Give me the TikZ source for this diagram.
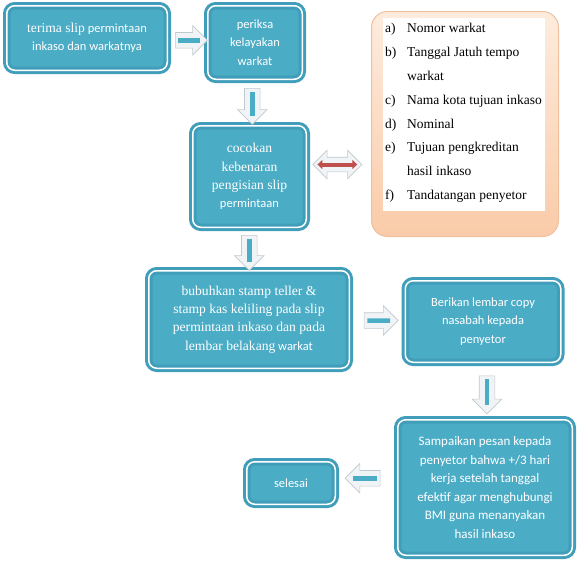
\documentclass[tikz,border=0pt]{standalone}
\usepackage{fontspec}
\setmainfont{Liberation Serif}
\setsansfont{Carlito}
\usetikzlibrary{shapes.arrows,calc,arrows.meta}
\definecolor{boxfill}{RGB}{75,172,198}
\definecolor{boxedge}{RGB}{64,158,186}
\definecolor{arrowfill}{RGB}{241,244,246}
\definecolor{arrowedge}{RGB}{192,201,206}
\definecolor{peachtop}{RGB}{253,236,222}
\definecolor{peachbot}{RGB}{250,203,168}
\definecolor{peachedge}{RGB}{240,192,156}
\definecolor{redbar}{RGB}{192,80,77}
\newcommand{\sr}[1]{{\rmfamily\fontsize{13.6}{18.3}\selectfont #1}}

\tikzset{
  stepbox/.style={draw=boxedge, line width=3pt, double=white, double distance=1.5pt,
    fill=boxfill, rounded corners=8pt, align=center, text=white, inner sep=2pt,
    font=\sffamily\fontsize{12.5}{18.3}\selectfont},
  blockarrow/.style={single arrow, single arrow head extend=7pt, draw=arrowedge,
    fill=arrowfill, line width=0.6pt, inner sep=0pt, text height=15pt, text depth=0pt,
    minimum height=#1},
  dblarrow/.style={double arrow, double arrow head extend=7pt, draw=arrowedge,
    fill=arrowfill, line width=0.6pt, inner sep=0pt, text height=14pt, text depth=0pt,
    minimum height=#1},
  arrowbar/.style={draw=boxfill, line width=4.5pt},
  notebox/.style={draw=peachedge, line width=1pt, rounded corners=16pt,
    top color=peachtop, bottom color=peachbot},
  listtext/.style={inner sep=0pt, font=\rmfamily\fontsize{13.5}{23.8}\selectfont}
}

\begin{document}
\begin{tikzpicture}[x=1pt,y=-1pt]
                    \useasboundingbox (0,0) rectangle (577,563);

                    \node[stepbox, minimum width=160.5, minimum height=64.5] (b1) at (87,38)
                        {\sr{terima slip} permintaan\\inkaso dan warkatnya};
                    \node[stepbox, minimum width=94.5, minimum height=73.5] (b2) at (255,42.5)
                        {periksa\\kelayakan\\warkat};
                    \node[stepbox, minimum width=113.5, minimum height=101.5] (b3) at (249.5,176.5)
                        {\sr{cocokan}\\\sr{kebenaran}\\\sr{pengisian slip}\\permintaan};
                    \node[stepbox, minimum width=200.5, minimum height=97.5] (b4) at (249,319.5)
                        {\sr{bubuhkan stamp teller \&}\\\sr{stamp kas keliling pada slip}\\
                         \sr{permintaan inkaso dan pada}\\\sr{lembar belakang} warkat};
                    \node[stepbox, minimum width=155.5, minimum height=81.5] (b5) at (483,321.5)
                        {Berikan lembar copy\\nasabah kepada\\penyetor};
                    \node[stepbox, minimum width=174.5, minimum height=135.5,
                        font=\sffamily\fontsize{13}{18.6}\selectfont] (b6) at (485,487.5)
                        {Sampaikan pesan kepada\\penyetor bahwa +/3 hari\\kerja setelah tanggal\\
                         efektif agar menghubungi\\BMI guna menanyakan\\hasil inkaso};
                    \node[stepbox, minimum width=88.5, minimum height=42.5] (b7) at (291,483)
                        {selesai};

                    \node[notebox, minimum width=187, minimum height=225] (note) at (465,124) {};
                    \node[fill=white, inner sep=0pt, minimum width=162, minimum height=193] (pad) at (464,114.5) {};
                    \node[listtext, anchor=west] (items) at (385,111.5) {%
                        \rmfamily
                        \begin{tabular}{@{}p{22pt}@{}l@{}}
                        a) & Nomor warkat\\
                        b) & Tanggal Jatuh tempo\\
                           & warkat\\
                        c) & Nama kota tujuan inkaso\\
                        d) & Nominal\\
                        e) & Tujuan pengkreditan\\
                           & hasil inkaso\\
                        f) & Tandatangan penyetor
                        \end{tabular}};

                    \node[blockarrow=32] (a1) at ($(b1.east)!0.5!(b2.west)$) {};
                    \node[blockarrow=36, rotate=-90] (a2) at ($(b2.south)!0.5!(b3.north)$) {};
                    \node[blockarrow=35, rotate=-90] (a3) at ($(b3.south)!0.5!(b4.north)$) {};
                    \node[blockarrow=34] (a4) at ($(b4.east)!0.5!(b5.west)$) {};
                    \node[blockarrow=38, rotate=-90] (a5) at ($(b5.south)!0.5!(b6.north)+(3,0)$) {};
                    \node[blockarrow=35, rotate=180] (a6) at ($(b6.west)!0.5!(b7.east)+(0,-7)$) {};
                    \node[dblarrow=49] (dbl) at ($(b3.east)!0.5!(b3.east -| note.west)+(-2,-12)$) {};

                    \foreach \a in {a1,a2,a3,a4,a5,a6}
                    {\draw[arrowbar] ($(\a.tail)!0.1!(\a.tip)$) -- ($(\a.tail)!0.76!(\a.tip)$);}

                    \draw[redbar, line width=4pt, {Triangle[width=9pt,length=5pt]}-{Triangle[width=9pt,length=5pt]}]
                        ($(dbl.tip 1)!0.1!(dbl.tip 2)$) -- ($(dbl.tip 1)!0.9!(dbl.tip 2)$);
                \end{tikzpicture}
\end{document}
